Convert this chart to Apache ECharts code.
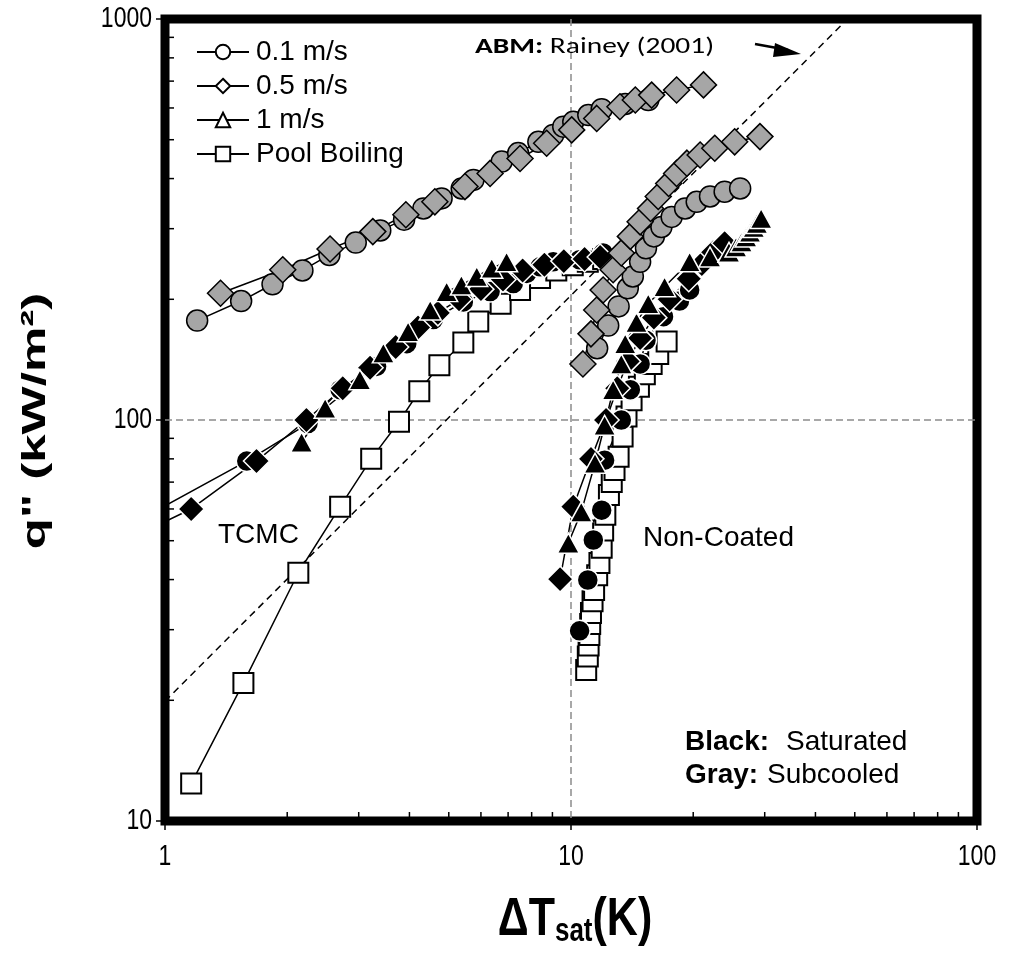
<!DOCTYPE html>
<html><head><meta charset="utf-8">
<script src="https://cdn.jsdelivr.net/npm/echarts@6/dist/echarts.min.js"></script>
<style>html,body{margin:0;padding:0;background:#fff}#c{width:1009px;height:957px}</style>
</head><body><div id="c"></div>
<script>
// ---- data (x = ΔTsat [K], y = q" [kW/m²]) ----
const tcmcPool = [[1.16,12.4],[1.56,22.1],[2.13,41.6],[2.70,60.8],[3.22,80],[3.77,99],[4.23,118],[4.74,137],[5.43,156],[5.91,176],[6.71,195],[7.49,211],[8.39,226],[9.2,236],[10.1,243],[11.0,248],[12.0,252]];
const ncPool = [[10.9,23.8],[11.0,25.7],[11.05,27.4],[11.1,29.1],[11.15,31],[11.2,33],[11.3,35.3],[11.4,37.7],[11.6,41],[11.75,44],[11.9,48],[12.0,53],[12.15,58],[12.4,65],[12.6,70],[12.8,75],[13.1,81],[13.4,91],[13.7,102],[14.1,112],[14.7,121],[15.2,130],[15.8,138],[16.4,146],[17.2,157]];
const tcmcSat01 = [[0.8,54],[1.59,79],[2.25,98],[2.70,119],[3.32,136],[3.94,155],[4.58,178],[5.43,197],[6.32,209],[7.21,219],[7.78,232],[8.39,241],[9.04,248],[10.5,251],[12.0,261]];
const ncSat01 = [[10.5,29.8],[11.0,39.9],[11.35,50.2],[11.9,59.6],[12.1,79.4],[13.3,100],[14.0,119],[14.8,138],[15.3,158],[16.9,181],[18.5,198],[19.6,211]];
const tcmcSat05 = [[0.8,50],[1.16,60],[1.68,79],[2.23,100],[2.74,120],[3.2,135],[3.7,152],[4.2,170],[4.7,185],[5.3,200],[6.0,212],[6.8,224],[7.6,236],[8.6,244],[9.6,249],[10.8,252],[11.8,255]];
const ncSat05 = [[9.4,40.1],[10.13,60.8],[11.2,80],[12.2,100],[13.0,120],[13.8,140],[14.8,160],[16.0,180],[17.5,200],[19.5,225],[21.0,245],[22.4,262],[23.9,276]];
const tcmcSat1 = [[2.17,88],[2.48,107],[3.02,126],[3.45,147],[3.97,166],[4.5,188],[4.94,209],[5.37,217],[5.86,228],[6.38,239],[6.94,248]];
const ncSat1 = [[9.85,49.3],[10.6,59],[11.46,78],[12.1,97],[12.7,119],[13.3,138],[13.6,155],[14.5,175],[15.5,195],[17.0,215],[19.6,248],[22.0,255],[24.5,262],[25.5,270],[26.3,278],[27.0,286],[27.6,294],[28.2,302],[28.7,309],[29.4,318]];
const tcmcSub01 = [[1.2,177],[1.54,198],[1.84,218],[2.18,236],[2.54,258],[2.95,277],[3.39,297],[3.88,316],[4.33,337],[4.8,357],[5.38,378],[5.75,397],[6.75,441],[7.41,463],[8.31,494],[9.04,514],[9.57,539],[10.13,554],[11.03,576],[11.9,596],[13.6,614],[15.5,628]];
const ncSub01 = [[11.6,151],[12.35,172],[13.1,192],[13.8,213],[14.2,228],[14.8,248],[15.3,268],[16.0,287],[16.7,303],[17.7,321],[19.1,337],[20.4,350],[22.0,361],[23.9,371],[26.1,378]];
const tcmcSub05 = [[1.37,207],[1.95,237],[2.55,267],[3.25,295],[3.92,325],[4.62,350],[5.48,382],[6.32,412],[7.49,449],[8.71,490],[10.04,529],[11.57,565],[13.2,604],[14.4,628],[15.8,646],[18.2,665],[21.2,685]];
const ncSub05 = [[10.7,138],[11.2,164],[11.57,188],[12.0,211],[12.7,237],[13.3,261],[14.0,287],[14.8,312],[15.7,337],[16.4,361],[17.4,389],[18.2,412],[19.3,437],[20.8,458],[22.6,476],[25.3,494],[29.2,509]];
const abmRainey = [[1,19.9],[48,1000]];
const legendNames = ['0.1 m/s','0.5 m/s','1 m/s','Pool Boiling'];
const xTickVals = [1,10,100], xTickLabels = ['1','10','100'];
const yTickVals = [10,100,1000], yTickLabels = ['10','100','1000'];
const minorX = [2,3,4,5,6,7,8,9,20,30,40,50,60,70,80,90];
const minorY = [20,30,40,50,60,70,80,90,200,300,400,500,600,700,800,900];

const FONT = '"Liberation Sans", Arial, sans-serif';
const CAL = 'Carlito, Calibri, Lato, "Open Sans", sans-serif';

const STY = {
  gray: {color:'#A6A6A6', borderColor:'#000', borderWidth:1.5},
  black:{color:'#000', borderColor:'#fff', borderWidth:1.5},
  white:{color:'#fff', borderColor:'#000', borderWidth:2}
};
const SYM = {circle:['circle',21], diamond:['diamond',26], tri:['triangle',[22,20]], square:['rect',20]};
function mk(name, data, sym, kind){
  return {type:'line', name, data, symbol:SYM[sym][0], symbolSize:SYM[sym][1],
    showSymbol:true, itemStyle:STY[kind], lineStyle:{color:'#000', width:1.5},
    clip:true, animation:false, silent:true, emphasis:{disabled:true}};
}
function legendSeries(name, sym){
  return {type:'line', name, data:[], symbol:sym, itemStyle:{color:'#fff', borderColor:'#000', borderWidth:1.5},
    lineStyle:{color:'#000', width:1.5}, animation:false};
}

const chart = echarts.init(document.getElementById('c'));
const axisCommon = {
  type:'log', logBase:10,
  axisLine:{show:false},
  axisTick:{show:true, inside:false, length:9, lineStyle:{color:'#000', width:1.5}},
  axisLabel:{show:false},
  splitLine:{show:true, showMinLine:false, showMaxLine:false, lineStyle:{color:'#8c8c8c', width:1.5, type:[7,4]}},
  minorTick:{show:false}
};
chart.setOption({
  animation:false,
  backgroundColor:'#fff',
  textStyle:{fontFamily:FONT},
  grid:{left:165, top:19, width:812, height:802, show:true, borderColor:'#000', borderWidth:9, backgroundColor:'transparent'},
  xAxis:Object.assign({}, axisCommon, {min:1, max:100}),
  yAxis:Object.assign({}, axisCommon, {min:10, max:1000}),
  legend:{data:legendNames, orient:'vertical', left:191, top:33, itemWidth:52, itemHeight:18, itemGap:6,
    selectedMode:false, textStyle:{fontSize:28, fontFamily:FONT, color:'#000', padding:[0,0,0,2]}},
  series:[
    legendSeries(legendNames[0],'circle'),
    legendSeries(legendNames[1],'diamond'),
    legendSeries(legendNames[2],'triangle'),
    legendSeries(legendNames[3],'rect'),
    mk('TCMC pool', tcmcPool, 'square', 'white'),
    mk('NC pool', ncPool, 'square', 'white'),
    mk('TCMC sat 0.1', tcmcSat01, 'circle', 'black'),
    mk('NC sat 0.1', ncSat01, 'circle', 'black'),
    mk('TCMC sat 0.5', tcmcSat05, 'diamond', 'black'),
    mk('NC sat 0.5', ncSat05, 'diamond', 'black'),
    mk('TCMC sat 1', tcmcSat1, 'tri', 'black'),
    mk('NC sat 1', ncSat1, 'tri', 'black'),
    mk('TCMC sub 0.1', tcmcSub01, 'circle', 'gray'),
    mk('NC sub 0.1', ncSub01, 'circle', 'gray'),
    mk('TCMC sub 0.5', tcmcSub05, 'diamond', 'gray'),
    mk('NC sub 0.5', ncSub05, 'diamond', 'gray'),
    {type:'line', name:'ABM Rainey', data:abmRainey, symbol:'none', clip:true, silent:true,
     lineStyle:{color:'#000', width:1.5, type:[7,5]}, animation:false}
  ]
});

const g = [];
const x0 = chart.convertToPixel({xAxisIndex:0}, 1);
const yb = chart.convertToPixel({yAxisIndex:0}, 10);
// minor ticks (inside)
minorX.forEach(v=>{const px = chart.convertToPixel({xAxisIndex:0}, v);
  g.push({type:'line', shape:{x1:px, y1:yb, x2:px, y2:yb-9}, style:{stroke:'#000', lineWidth:1.5}, z:10});});
minorY.forEach(v=>{const py = chart.convertToPixel({yAxisIndex:0}, v);
  g.push({type:'line', shape:{x1:x0, y1:py, x2:x0+9, y2:py}, style:{stroke:'#000', lineWidth:1.5}, z:10});});
// tick labels
xTickVals.forEach((v,i)=>{const px = chart.convertToPixel({xAxisIndex:0}, v);
  g.push({type:'text', x:px, y:yb+36, scaleY:1.3, z:10,
    style:{text:xTickLabels[i], font:'23px '+FONT, fill:'#000', align:'center', verticalAlign:'middle'}});});
yTickVals.forEach((v,i)=>{const py = chart.convertToPixel({yAxisIndex:0}, v);
  g.push({type:'text', x:x0-13, y:py, scaleY:1.3, z:10,
    style:{text:yTickLabels[i], font:'23px '+FONT, fill:'#000', align:'right', verticalAlign:'middle'}});});

// titles & annotations
g.push({type:'text', x:36, y:421, rotation:Math.PI/2, scaleX:1.5, z:10,
  style:{text:'q" (kW/m²)', font:'bold 34px '+FONT, fill:'#000', align:'center', verticalAlign:'middle'}});
g.push({type:'text', x:575, y:920, scaleY:1.25, z:10,
  style:{text:'{a|ΔT}{s|sat}{a|(K)}', align:'center', verticalAlign:'middle', fill:'#000',
    rich:{a:{fontSize:43, fontWeight:'bold', fontFamily:FONT, lineHeight:46, fill:'#000'},
          s:{fontSize:26, fontWeight:'bold', fontFamily:FONT, lineHeight:14, verticalAlign:'bottom', fill:'#000'}}}});
g.push({type:'text', x:475, y:47, scaleX:1.28, z:10,
  style:{text:'{b|ABM:} Rainey (2001)', fill:'#000', verticalAlign:'middle', font:'23px '+CAL,
    rich:{b:{fontWeight:'bold', fontSize:23, fontFamily:CAL, fill:'#000'}}}});
g.push({type:'line', shape:{x1:755, y1:44, x2:788, y2:50}, style:{stroke:'#000', lineWidth:2.5}, z:10});
g.push({type:'polygon', shape:{points:[[775,43],[801,54],[773,57]]}, style:{fill:'#000'}, z:10});
g.push({type:'text', x:218, y:535, z:10, style:{text:'TCMC', font:'28px '+FONT, fill:'#000', verticalAlign:'middle'}});
g.push({type:'text', x:643, y:538, z:10, style:{text:'Non-Coated', font:'28px '+FONT, fill:'#000', verticalAlign:'middle'}});
g.push({type:'text', x:685, y:742, z:10, style:{text:'Black:', font:'bold 28px '+FONT, fill:'#000', verticalAlign:'middle'}});
g.push({type:'text', x:786, y:742, z:10, style:{text:'Saturated', font:'28px '+FONT, fill:'#000', verticalAlign:'middle'}});
g.push({type:'text', x:685, y:775, z:10, style:{text:'Gray:', font:'bold 28px '+FONT, fill:'#000', verticalAlign:'middle'}});
g.push({type:'text', x:767, y:775, z:10, style:{text:'Subcooled', font:'28px '+FONT, fill:'#000', verticalAlign:'middle'}});
chart.setOption({graphic:g});
</script></body></html>
